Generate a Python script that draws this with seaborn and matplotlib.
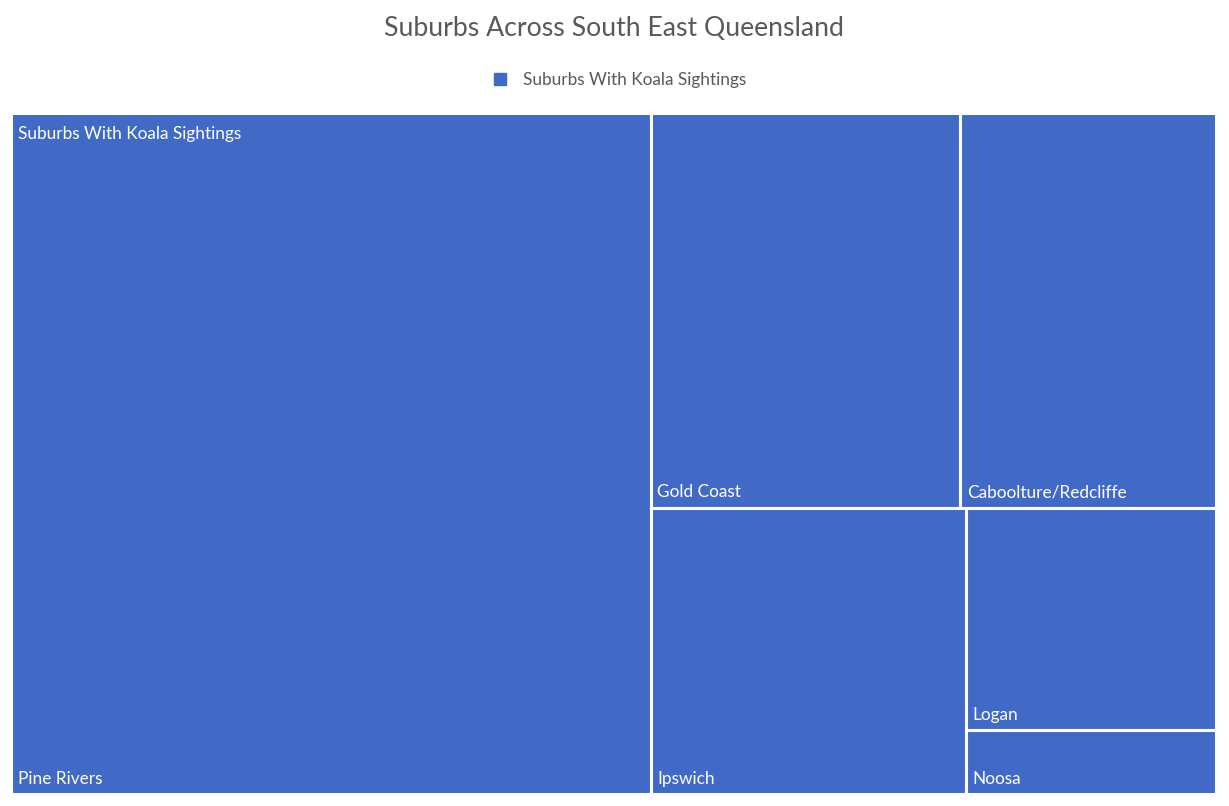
import matplotlib
matplotlib.use("Agg")
import matplotlib.pyplot as plt
import seaborn as sns
from matplotlib.patches import Rectangle
from matplotlib.lines import Line2D

# data (number of suburbs with koala sightings)
regions = ["Pine Rivers", "Gold Coast", "Caboolture/Redcliffe", "Ipswich", "Logan", "Noosa"]
counts = [164, 46, 38, 34, 21, 6]
parent = "Suburbs With Koala Sightings"
title = "Suburbs Across South East Queensland"

tile_color = "#416AC7"
text_grey = "#595959"


def worst(row, length):
    s = sum(row)
    return max(max(length**2 * r / s**2, s**2 / (length**2 * r)) for r in row)


def squarify(sizes, x, y, w, h):
    rects = []
    sizes = list(sizes)
    while sizes:
        length = min(w, h)
        row = [sizes[0]]
        i = 1
        while i < len(sizes) and worst(row + [sizes[i]], length) <= worst(row, length):
            row.append(sizes[i])
            i += 1
        sizes = sizes[i:]
        s = sum(row)
        if w >= h:
            cw = s / h
            yy = y
            for r in row:
                rects.append((x, yy, cw, r / cw))
                yy += r / cw
            x += cw
            w -= cw
        else:
            rh = s / w
            xx = x
            for r in row:
                rects.append((xx, y, r / rh, rh))
                xx += r / rh
            y += rh
            h -= rh
    return rects


sns.set_theme(style="white")
plt.rcParams["font.family"] = ["Lato", "DejaVu Sans"]

fig = plt.figure(figsize=(12.29, 8.06), dpi=100)
ax = fig.add_axes([11 / 1229, 12 / 806, 1205 / 1229, 681 / 806])

W, H = 1205.0, 681.0
total = sum(counts)
areas = [c / total * W * H for c in counts]
rects = squarify(areas, 0, 0, W, H)

for name, (x, y, w, h) in zip(regions, rects):
    ax.add_patch(Rectangle((x, y), w, h, facecolor=tile_color,
                           edgecolor="white", linewidth=2.2))
    ax.annotate(name, (x, y + h), xytext=(5, 11), textcoords="offset points",
                color="white", fontsize=12.4, ha="left", va="center")

# parent label in the top-left corner
ax.annotate(parent, (0, 0), xytext=(5, -15), textcoords="offset points",
            color="white", fontsize=12.4, ha="left", va="center")

ax.set_xlim(0, W)
ax.set_ylim(H, 0)
ax.axis("off")

fig.text(0.5, 1 - 29 / 806, title, ha="center", va="center",
         fontsize=19.2, color=text_grey)

handle = Line2D([], [], marker="s", linestyle="none", markersize=8,
                color=tile_color)
fig.legend([handle], [parent], loc="center", bbox_to_anchor=(0.5, 1 - 80 / 806),
           frameon=False, fontsize=12.4, labelcolor=text_grey,
           handletextpad=0.3, borderpad=0)

fig.savefig("out.png", dpi=100)
